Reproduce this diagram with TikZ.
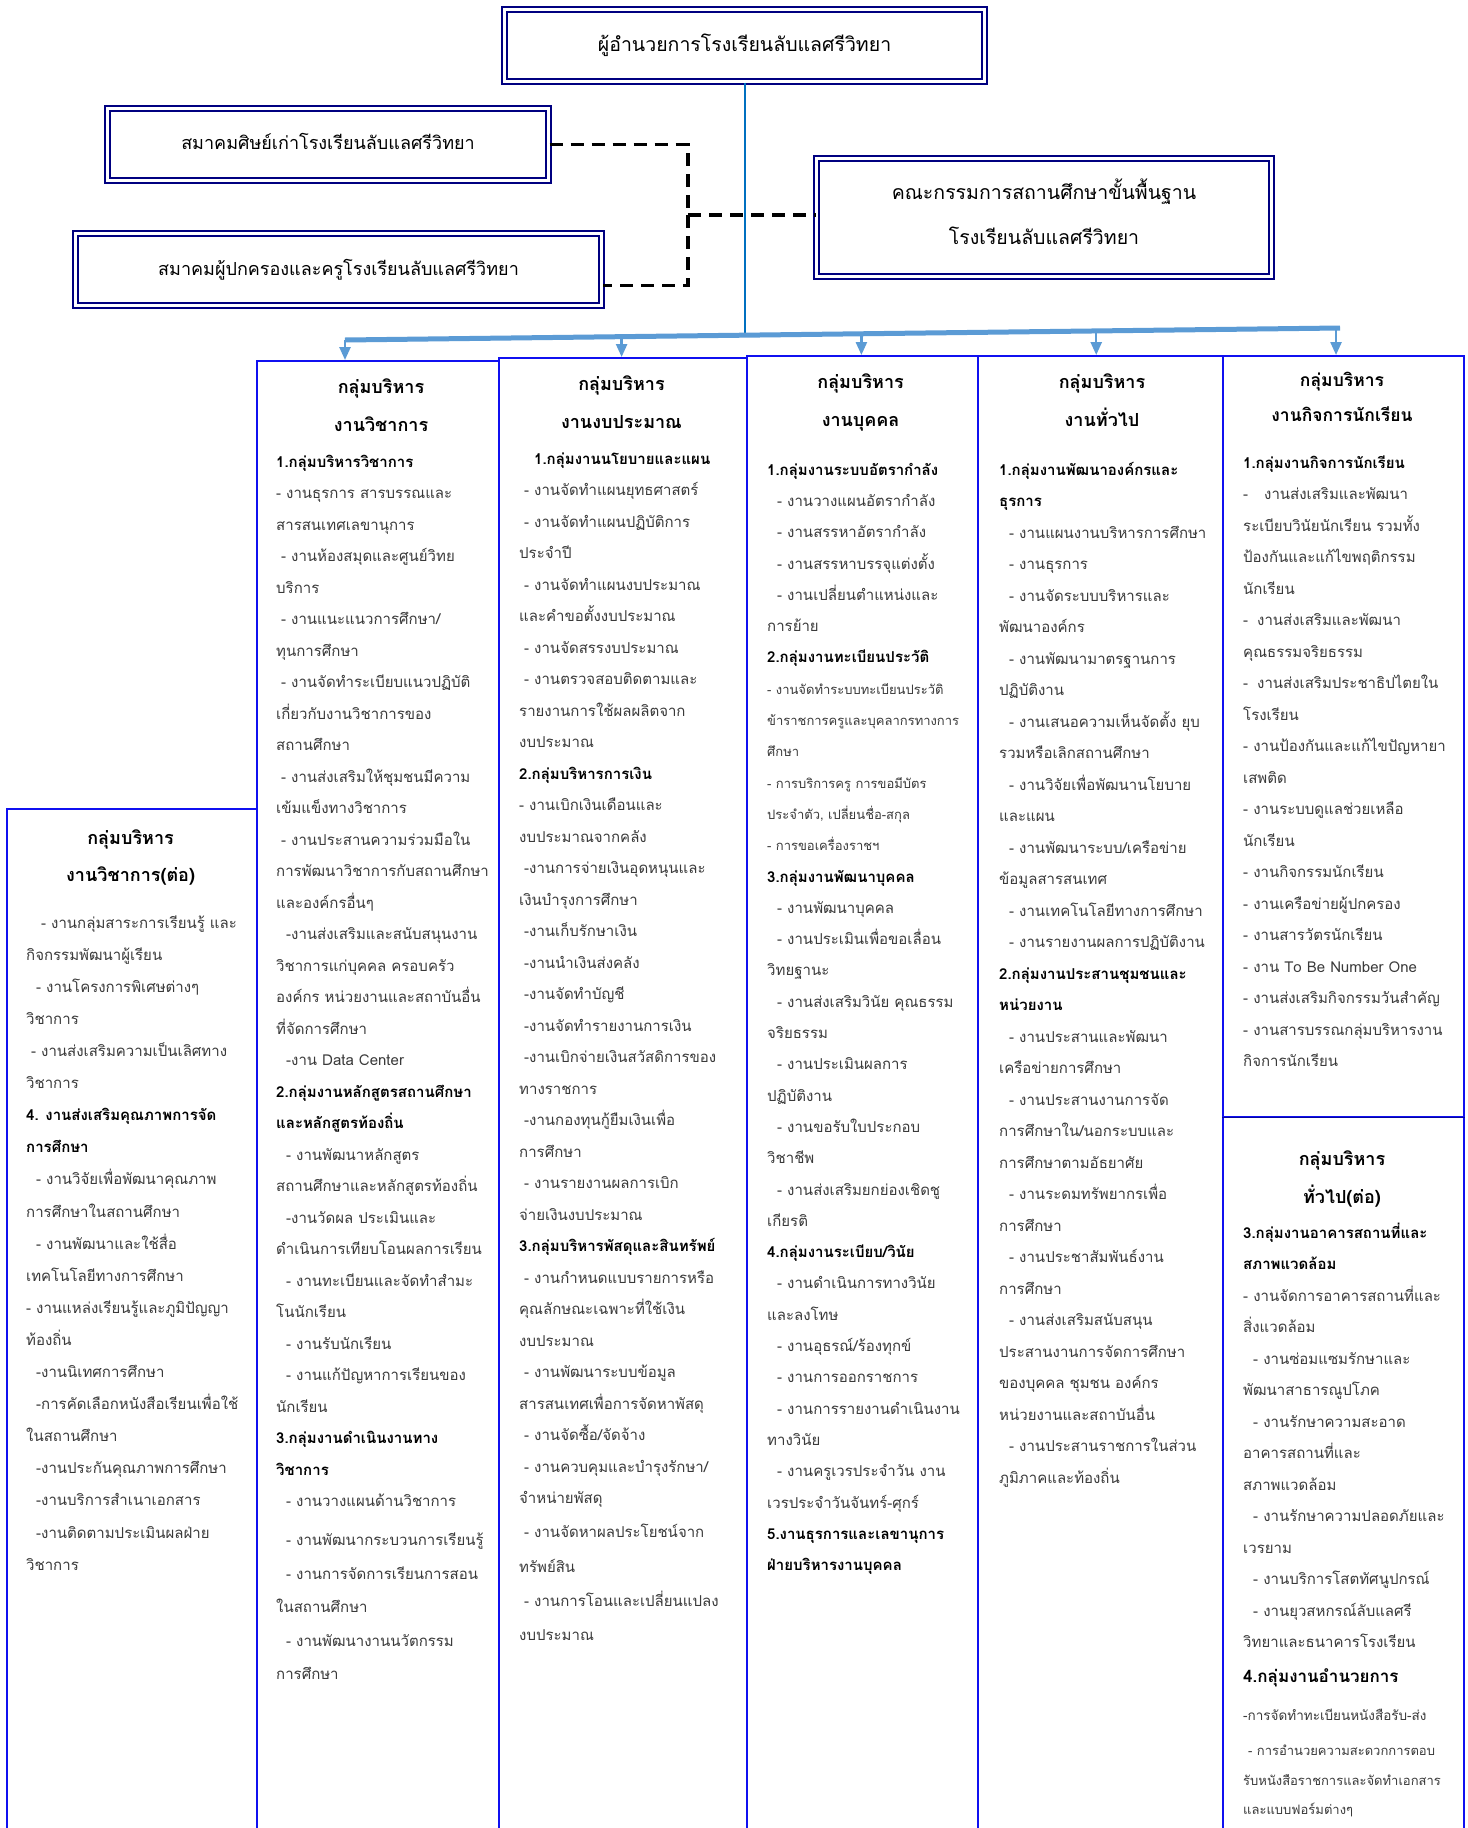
\documentclass[tikz,border=0pt]{standalone}
\usepackage{fontspec}
\setmainfont[Script=Thai]{Loma}
\usetikzlibrary{arrows.meta,calc}
\definecolor{navyline}{HTML}{000080}
\definecolor{stem}{HTML}{0070C0}
\definecolor{feed}{HTML}{5B9BD5}
\definecolor{boxblue}{HTML}{1010F0}
\definecolor{ink}{HTML}{3A3A3A}
\newcommand{\inda}{\hspace*{5pt}}
\newcommand{\indb}{\hspace*{10pt}}
\newcommand{\indc}{\hspace*{15pt}}
\newcommand{\grp}[1]{{\bfseries\color{black}#1}}
\newcommand{\smtxt}[1]{{\fontsize{13}{31.5}\selectfont #1}}
\tikzset{
  topbox/.style={draw=navyline, double=white, double distance=3pt, line width=2pt,
    inner sep=0pt, align=center, font=\fontsize{18}{45}\selectfont},
  colbox/.style={draw=boxblue, line width=1.6pt, anchor=north west, inner sep=0pt},
  head/.style={anchor=north, inner sep=0pt, align=center, font=\bfseries\fontsize{18}{38}\selectfont},
  body/.style={anchor=north west, inner sep=0pt, align=left, text=ink, font=\fontsize{15}{31.5}\selectfont},
  dashline/.style={black, line width=3.5pt, dash pattern=on 13pt off 8pt},
  stemline/.style={stem, line width=2pt},
  feedbar/.style={feed, line width=5pt},
  feedarrow/.style={feed, line width=2.5pt, -{Triangle[length=13pt,width=11pt]}}
}
\begin{document}
\begin{tikzpicture}[x=1pt,y=-1pt]
\useasboundingbox (0,0) rectangle (1467,1828);
\fill[white] (0,0) rectangle (1467,1828);
\clip (0,0) rectangle (1467,1828);

\node[topbox, minimum width=480pt, minimum height=72pt, font=\fontsize{19.5}{45}\selectfont] (dir) at (744.5,45.5) {\raisebox{1pt}{ผู้อำนวยการโรงเรียนลับแลศรีวิทยา}};
\node[topbox, minimum width=441pt, minimum height=72pt] (alum) at (328,144.5) {\raisebox{6pt}{สมาคมศิษย์เก่าโรงเรียนลับแลศรีวิทยา}};
\node[topbox, minimum width=526pt, minimum height=72pt] (par) at (338.5,269.5) {\raisebox{2pt}{สมาคมผู้ปกครองและครูโรงเรียนลับแลศรีวิทยา}};
\node[topbox, minimum width=455pt, minimum height=118pt] (com) at (1044,217.5) {};
\node[align=center, inner sep=0pt, font=\fontsize{19.5}{45}\selectfont] (comtxt) at (1044,211.5) {คณะกรรมการสถานศึกษาขั้นพื้นฐาน\\โรงเรียนลับแลศรีวิทยา};

\coordinate (spine) at (688,215);
\draw[dashline] (alum.east) -| (spine);
\draw[dashline] (spine) -- (spine -| com.west);
\draw[dashline] (spine) |- ($(par.east)+(0,16)$);

\node[colbox, minimum width=250pt, minimum height=1100pt] (l1) at (6,808) {};
\node[colbox, minimum width=242pt, minimum height=1500pt] (c1) at (256,360) {};
\node[colbox, minimum width=248pt, minimum height=1500pt] (c2) at (498,357) {};
\node[colbox, minimum width=231pt, minimum height=1500pt] (c3) at (746,355) {};
\node[colbox, minimum width=245pt, minimum height=1500pt] (c4) at (977,355) {};
\node[colbox, minimum width=241pt, minimum height=761pt] (c5) at (1222,355) {};
\node[colbox, minimum width=241pt, minimum height=800pt] (c6) at (1222,1116) {};
\draw[navyline!70!boxblue, line width=1.6pt] (c5.south west) -- (c5.south east);

\coordinate (b1) at (345,340);
\coordinate (b5) at (1340,328);
\coordinate (mid) at ($(b1)!0.403!(b5)$);
\draw[stemline] (dir.south) -- (dir.south |- mid);
\draw[feedbar] (b1) -- (b5);
\foreach \t/\c in {0/c1, 0.278/c2, 0.519/c3, 0.755/c4, 0.996/c5}
  \draw[feedarrow] ($(b1)!\t!(b5)$) coordinate (p) -- (p |- \c.north);

% column 1
\node[head] (h1) at (381,367) {\strut กลุ่มบริหาร\\งานวิชาการ};
\node[body] (t1) at (276,445) {\strut\grp{1.กลุ่มบริหารวิชาการ}\\
- งานธุรการ สารบรรณและ\\
สารสนเทศเลขานุการ\\
\inda - งานห้องสมุดและศูนย์วิทย\\
บริการ\\
\inda - งานแนะแนวการศึกษา/\\
ทุนการศึกษา\\
\inda - งานจัดทำระเบียบแนวปฏิบัติ\\
เกี่ยวกับงานวิชาการของ\\
สถานศึกษา\\
\inda - งานส่งเสริมให้ชุมชนมีความ\\
เข้มแข็งทางวิชาการ\\
\inda - งานประสานความร่วมมือใน\\
การพัฒนาวิชาการกับสถานศึกษา\\
และองค์กรอื่นๆ\\
\indb -งานส่งเสริมและสนับสนุนงาน\\
วิชาการแก่บุคคล ครอบครัว\\
องค์กร หน่วยงานและสถาบันอื่น\\
ที่จัดการศึกษา\\
\indb -งาน Data Center\\
\grp{2.กลุ่มงานหลักสูตรสถานศึกษา}\\
\grp{และหลักสูตรท้องถิ่น}\\
\indb - งานพัฒนาหลักสูตร\\
สถานศึกษาและหลักสูตรท้องถิ่น\\
\indb -งานวัดผล ประเมินและ\\
ดำเนินการเทียบโอนผลการเรียน\\
\indb - งานทะเบียนและจัดทำสำมะ\\
โนนักเรียน\\
\indb - งานรับนักเรียน\\
\indb - งานแก้ปัญหาการเรียนของ\\
นักเรียน\\
\grp{3.กลุ่มงานดำเนินงานทาง}\\
\grp{วิชาการ}\\
\indb - งานวางแผนด้านวิชาการ};
\node[body, font=\fontsize{15}{33.5}\selectfont] (t1b) at (276,1522) {\strut\indb - งานพัฒนากระบวนการเรียนรู้\\
\indb - งานการจัดการเรียนการสอน\\
ในสถานศึกษา\\
\indb - งานพัฒนางานนวัตกรรม\\
การศึกษา};

% column 2
\node[head] (h2) at (621.5,364) {\strut กลุ่มบริหาร\\งานงบประมาณ};
\node[body] (t2) at (519,442) {\strut\indc\grp{1.กลุ่มงานนโยบายและแผน}\\
\inda - งานจัดทำแผนยุทธศาสตร์\\
\inda - งานจัดทำแผนปฏิบัติการ\\
ประจำปี\\
\inda - งานจัดทำแผนงบประมาณ\\
และคำขอตั้งงบประมาณ\\
\inda - งานจัดสรรงบประมาณ\\
\inda - งานตรวจสอบติดตามและ\\
รายงานการใช้ผลผลิตจาก\\
งบประมาณ\\
\grp{2.กลุ่มบริหารการเงิน}\\
- งานเบิกเงินเดือนและ\\
งบประมาณจากคลัง\\
\inda -งานการจ่ายเงินอุดหนุนและ\\
เงินบำรุงการศึกษา\\
\inda -งานเก็บรักษาเงิน\\
\inda -งานนำเงินส่งคลัง\\
\inda -งานจัดทำบัญชี\\
\inda -งานจัดทำรายงานการเงิน\\
\inda -งานเบิกจ่ายเงินสวัสดิการของ\\
ทางราชการ\\
\inda -งานกองทุนกู้ยืมเงินเพื่อ\\
การศึกษา\\
\inda - งานรายงานผลการเบิก\\
จ่ายเงินงบประมาณ\\
\grp{3.กลุ่มบริหารพัสดุและสินทรัพย์}\\
\inda - งานกำหนดแบบรายการหรือ\\
คุณลักษณะเฉพาะที่ใช้เงิน\\
งบประมาณ\\
\inda - งานพัฒนาระบบข้อมูล\\
สารสนเทศเพื่อการจัดหาพัสดุ\\
\inda - งานจัดซื้อ/จัดจ้าง\\
\inda - งานควบคุมและบำรุงรักษา/};
\node[body, font=\fontsize{15}{34.4}\selectfont] (t2b) at (519,1479) {\strut จำหน่ายพัสดุ\\
\inda - งานจัดหาผลประโยชน์จาก\\
ทรัพย์สิน\\
\inda - งานการโอนและเปลี่ยนแปลง\\
งบประมาณ};

% column 3
\node[head] (h3) at (860.6,362) {\strut กลุ่มบริหาร\\งานบุคคล};
\node[body, font=\fontsize{15}{31.3}\selectfont] (t3) at (767,453) {\strut\grp{1.กลุ่มงานระบบอัตรากำลัง}\\
\indb - งานวางแผนอัตรากำลัง\\
\indb - งานสรรหาอัตรากำลัง\\
\indb - งานสรรหาบรรจุแต่งตั้ง\\
\indb - งานเปลี่ยนตำแหน่งและ\\
การย้าย\\
\grp{2.กลุ่มงานทะเบียนประวัติ}\\
\smtxt{- งานจัดทำระบบทะเบียนประวัติ}\\
\smtxt{ข้าราชการครูและบุคลากรทางการ}\\
\smtxt{ศึกษา}\\
\smtxt{- การบริการครู การขอมีบัตร}\\
\smtxt{ประจำตัว, เปลี่ยนชื่อ-สกุล}\\
\smtxt{- การขอเครื่องราชฯ}\\
\grp{3.กลุ่มงานพัฒนาบุคคล}\\
\indb - งานพัฒนาบุคคล\\
\indb - งานประเมินเพื่อขอเลื่อน\\
วิทยฐานะ\\
\indb - งานส่งเสริมวินัย คุณธรรม\\
จริยธรรม\\
\indb - งานประเมินผลการ\\
ปฏิบัติงาน\\
\indb - งานขอรับใบประกอบ\\
วิชาชีพ\\
\indb - งานส่งเสริมยกย่องเชิดชู\\
เกียรติ\\
\grp{4.กลุ่มงานระเบียบ/วินัย}\\
\indb - งานดำเนินการทางวินัย\\
และลงโทษ\\
\indb - งานอุธรณ์/ร้องทุกข์\\
\indb - งานการออกราชการ\\
\indb - งานการรายงานดำเนินงาน\\
ทางวินัย\\
\indb - งานครูเวรประจำวัน งาน\\
เวรประจำวันจันทร์-ศุกร์\\
\grp{5.งานธุรการและเลขานุการ}\\
\grp{ฝ่ายบริหารงานบุคคล}};

% column 4
\node[head] (h4) at (1102,362) {\strut กลุ่มบริหาร\\งานทั่วไป};
\node[body] (t4) at (999,453) {\strut\grp{1.กลุ่มงานพัฒนาองค์กรและ}\\
\grp{ธุรการ}\\
\indb - งานแผนงานบริหารการศึกษา\\
\indb - งานธุรการ\\
\indb - งานจัดระบบบริหารและ\\
พัฒนาองค์กร\\
\indb - งานพัฒนามาตรฐานการ\\
ปฏิบัติงาน\\
\indb - งานเสนอความเห็นจัดตั้ง ยุบ\\
รวมหรือเลิกสถานศึกษา\\
\indb - งานวิจัยเพื่อพัฒนานโยบาย\\
และแผน\\
\indb - งานพัฒนาระบบ/เครือข่าย\\
ข้อมูลสารสนเทศ\\
\indb - งานเทคโนโลยีทางการศึกษา\\
\indb - งานรายงานผลการปฏิบัติงาน\\
\grp{2.กลุ่มงานประสานชุมชนและ}\\
\grp{หน่วยงาน}\\
\indb - งานประสานและพัฒนา\\
เครือข่ายการศึกษา\\
\indb - งานประสานงานการจัด\\
การศึกษาใน/นอกระบบและ\\
การศึกษาตามอัธยาศัย\\
\indb - งานระดมทรัพยากรเพื่อ\\
การศึกษา\\
\indb - งานประชาสัมพันธ์งาน\\
การศึกษา\\
\indb - งานส่งเสริมสนับสนุน\\
ประสานงานการจัดการศึกษา\\
ของบุคคล ชุมชน องค์กร\\
หน่วยงานและสถาบันอื่น\\
\indb - งานประสานราชการในส่วน\\
ภูมิภาคและท้องถิ่น};

% column 5
\node[head, font=\bfseries\fontsize{17.5}{35}\selectfont] (h5) at (1342,361.5) {\strut กลุ่มบริหาร\\งานกิจการนักเรียน};
\node[body] (t5) at (1243,446) {\strut\grp{1.กลุ่มงานกิจการนักเรียน}\\
-\hspace*{16pt}งานส่งเสริมและพัฒนา\\
ระเบียบวินัยนักเรียน รวมทั้ง\\
ป้องกันและแก้ไขพฤติกรรม\\
นักเรียน\\
-\hspace*{9pt}งานส่งเสริมและพัฒนา\\
คุณธรรมจริยธรรม\\
-\hspace*{9pt}งานส่งเสริมประชาธิปไตยใน\\
โรงเรียน\\
- งานป้องกันและแก้ไขปัญหายา\\
เสพติด\\
- งานระบบดูแลช่วยเหลือ\\
นักเรียน\\
- งานกิจกรรมนักเรียน\\
- งานเครือข่ายผู้ปกครอง\\
- งานสารวัตรนักเรียน\\
- งาน To Be Number One\\
- งานส่งเสริมกิจกรรมวันสำคัญ\\
- งานสารบรรณกลุ่มบริหารงาน\\
กิจการนักเรียน};

% column 5, lower part
\node[head] (h6) at (1342,1139) {\strut กลุ่มบริหาร\\ทั่วไป(ต่อ)};
\node[body] (t6) at (1243,1216) {\strut\grp{3.กลุ่มงานอาคารสถานที่และ}\\
\grp{สภาพแวดล้อม}\\
- งานจัดการอาคารสถานที่และ\\
สิ่งแวดล้อม\\
\indb - งานซ่อมแซมรักษาและ\\
พัฒนาสาธารณูปโภค\\
\indb - งานรักษาความสะอาด\\
อาคารสถานที่และ\\
สภาพแวดล้อม\\
\indb - งานรักษาความปลอดภัยและ\\
เวรยาม\\
\indb - งานบริการโสตทัศนูปกรณ์\\
\indb - งานยุวสหกรณ์ลับแลศรี\\
วิทยาและธนาคารโรงเรียน};
\node[body, anchor=base west, text=black, font=\bfseries\fontsize{17}{31.5}\selectfont] (t6b) at (1243,1682) {4.กลุ่มงานอำนวยการ};
\node[body, anchor=base west, font=\fontsize{13.5}{29.5}\selectfont] (t6c) at (1243,1720) {-การจัดทำทะเบียนหนังสือรับ-ส่ง};
\node[body, font=\fontsize{13}{29.5}\selectfont] (t6d) at (1243,1735) {\strut\inda - การอำนวยความสะดวกการตอบ\\
รับหนังสือราชการและจัดทำเอกสาร\\
และแบบฟอร์มต่างๆ};

% left box
\node[head, font=\bfseries\fontsize{18}{37.3}\selectfont] (h7) at (130.6,818) {\strut กลุ่มบริหาร\\งานวิชาการ(ต่อ)};
\node[body, font=\fontsize{15}{32.1}\selectfont] (t7) at (26,905.5) {\strut\indc - งานกลุ่มสาระการเรียนรู้ และ\\
กิจกรรมพัฒนาผู้เรียน\\
\indb - งานโครงการพิเศษต่างๆ\\
วิชาการ\\
\inda - งานส่งเสริมความเป็นเลิศทาง\\
วิชาการ\\
\grp{4. งานส่งเสริมคุณภาพการจัด}\\
\grp{การศึกษา}\\
\indb - งานวิจัยเพื่อพัฒนาคุณภาพ\\
การศึกษาในสถานศึกษา\\
\indb - งานพัฒนาและใช้สื่อ\\
เทคโนโลยีทางการศึกษา\\
- งานแหล่งเรียนรู้และภูมิปัญญา\\
ท้องถิ่น\\
\indb -งานนิเทศการศึกษา\\
\indb -การคัดเลือกหนังสือเรียนเพื่อใช้\\
ในสถานศึกษา\\
\indb -งานประกันคุณภาพการศึกษา\\
\indb -งานบริการสำเนาเอกสาร\\
\indb -งานติดตามประเมินผลฝ่าย\\
วิชาการ};
\end{tikzpicture}
\end{document}
